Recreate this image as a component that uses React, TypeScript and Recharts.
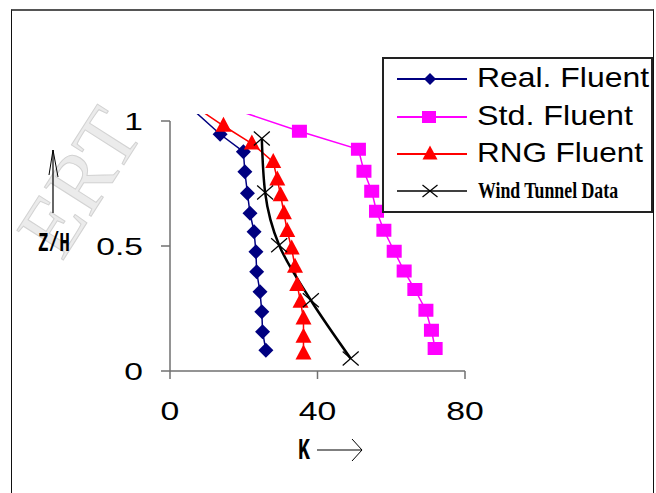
import React from 'react';
import { LineChart, Line, XAxis, YAxis, ReferenceLine } from 'recharts';

// ---- data (K on x, Z/H on y) ----
const realK = [6.6, 13.6, 19.9, 20.3, 21.0, 21.7, 22.8, 23.3, 23.5, 24.4, 24.9, 25.1, 26.0];
const realZ = [1.04, 0.947, 0.877, 0.797, 0.711, 0.631, 0.557, 0.477, 0.397, 0.317, 0.237, 0.157, 0.083];
const stdK = [18.8, 35.1, 51.1, 52.6, 54.7, 56.0, 58.0, 60.8, 63.5, 66.4, 69.4, 70.9, 71.9];
const stdZ = [1.04, 0.959, 0.887, 0.799, 0.719, 0.639, 0.563, 0.479, 0.4, 0.326, 0.243, 0.163, 0.09];
const rngK = [7.5, 14.5, 22.2, 28.0, 29.1, 30.0, 30.9, 31.8, 33.0, 33.9, 34.5, 35.4, 36.2, 36.2, 36.2];
const rngZ = [1.05, 0.981, 0.91, 0.836, 0.766, 0.703, 0.631, 0.56, 0.49, 0.417, 0.344, 0.277, 0.21, 0.137, 0.07];
const windK = [24.9, 25.8, 29.6, 38.2, 49.0];
const windZ = [0.93, 0.714, 0.503, 0.283, 0.05];

const xTicks = [0, 40, 80];
const yTicks = [0, 0.5, 1];
const yMax = 1.028;
const seriesNames = ['Real. Fluent', 'Std. Fluent', 'RNG Fluent', 'Wind Tunnel Data'];

const zip = (k: number[], z: number[]) => k.map((v, i) => ({ k: v, z: z[i] }));
const realData = zip(realK, realZ);
const stdData = zip(stdK, stdZ);
const rngData = zip(rngK, rngZ);
const windData = zip(windK, windZ);

const NAVY = '#000080';
const MAGENTA = '#FF00FF';
const RED = '#FF0000';
const AXIS = '#707070';

const Diamond = ({ cx, cy, r, fill }: any) => (
  <polygon points={`${cx},${cy - r} ${cx + r},${cy} ${cx},${cy + r} ${cx - r},${cy}`} fill={fill} />
);
const Square = ({ cx, cy, w, h, fill }: any) => (
  <rect x={cx - w / 2} y={cy - h / 2} width={w} height={h} fill={fill} />
);
const Tri = ({ cx, cy, w, h, fill }: any) => (
  <polygon points={`${cx},${cy - h * 0.6} ${cx + w / 2},${cy + h * 0.4} ${cx - w / 2},${cy + h * 0.4}`} fill={fill} />
);
const Cross = ({ cx, cy, w, h }: any) => (
  <g stroke="#000" strokeWidth={1.2} fill="none">
    <line x1={cx - w / 2} y1={cy - h / 2} x2={cx + w / 2} y2={cy + h / 2} />
    <line x1={cx - w / 2} y1={cy + h / 2} x2={cx + w / 2} y2={cy - h / 2} />
  </g>
);

// markers outside the plot area are hidden (as in the original)
const inside = (p: any) => p.payload && p.payload.z <= yMax && p.cx != null && p.cy != null;

const XTick = (p: any) => (
  <g transform={`translate(${p.x},${p.y + 39}) scale(1.35,1)`}>
    <text x={0} y={0} textAnchor="middle" fontFamily="'Liberation Sans', Arial, sans-serif" fontSize={25} fill="#000">
      {p.payload.value}
    </text>
  </g>
);
const YTick = (p: any) => (
  <g transform={`translate(${p.x - 16},${p.y + 8.5}) scale(1.4,1)`}>
    <text x={0} y={0} textAnchor="end" fontFamily="'Liberation Sans', Arial, sans-serif" fontSize={24} fill="#000">
      {p.payload.value}
    </text>
  </g>
);

const legendRows = [
  { name: seriesNames[0], y: 79, base: 87, len: 172, color: NAVY },
  { name: seriesNames[1], y: 117, base: 125, len: 156, color: MAGENTA },
  { name: seriesNames[2], y: 154, base: 162, len: 166, color: RED },
  { name: seriesNames[3], y: 191, base: 198, len: 143, color: '#000' },
];

export default function App() {
  return (
    <div style={{ position: 'absolute', left: 0, top: 0, width: 656, height: 493, background: '#fff', overflow: 'hidden' }}>
      <div
        style={{
          position: 'absolute',
          left: 11,
          top: 9,
          width: 641,
          height: 520,
          borderLeft: '1.5px solid #111',
          borderRight: '1.5px solid #111',
          borderTop: '2px solid #555',
        }}
      />
      <svg width={656} height={493} style={{ position: 'absolute', left: 0, top: 0 }}>
        <text
          x={62}
          y={262}
          transform="rotate(-57.5 62 262)"
          fontFamily="'Liberation Serif', 'Times New Roman', serif"
          fontSize={84}
          fill="#ebebeb"
          stroke="#d2d2d2"
          strokeWidth={1}
        >
          ERT
        </text>
      </svg>
      <div style={{ position: 'absolute', left: 0, top: 0 }}>
        <LineChart width={656} height={493} margin={{ top: 114, right: 191, bottom: 82, left: 110 }}>
          <XAxis
            dataKey="k"
            type="number"
            domain={[0, 80]}
            ticks={xTicks}
            tick={<XTick />}
            tickSize={8}
            height={40}
            stroke={AXIS}
            strokeWidth={1.5}
            interval={0}
          />
          <YAxis
            type="number"
            domain={[0, yMax]}
            allowDataOverflow
            ticks={yTicks}
            tick={<YTick />}
            tickSize={9}
            width={60}
            axisLine={false}
            stroke={AXIS}
            strokeWidth={1.5}
            interval={0}
          />
          <ReferenceLine segment={[{ x: 0, y: 0 }, { x: 0, y: 1 }]} stroke={AXIS} strokeWidth={1.5} />
          <Line
            data={realData}
            dataKey="z"
            name={seriesNames[0]}
            type="linear"
            stroke={NAVY}
            strokeWidth={1.5}
            isAnimationActive={false}
            dot={(p: any) =>
              inside(p) ? <Diamond key={`r${p.index}`} cx={p.cx} cy={p.cy} r={7.5} fill={NAVY} /> : <g key={`r${p.index}`} />
            }
          />
          <Line
            data={stdData}
            dataKey="z"
            name={seriesNames[1]}
            type="linear"
            stroke={MAGENTA}
            strokeWidth={1.5}
            isAnimationActive={false}
            dot={(p: any) =>
              inside(p) ? <Square key={`s${p.index}`} cx={p.cx} cy={p.cy} w={15} h={13} fill={MAGENTA} /> : <g key={`s${p.index}`} />
            }
          />
          <Line
            data={rngData}
            dataKey="z"
            name={seriesNames[2]}
            type="linear"
            stroke={RED}
            strokeWidth={1.5}
            isAnimationActive={false}
            dot={(p: any) =>
              inside(p) ? <Tri key={`g${p.index}`} cx={p.cx} cy={p.cy} w={16} h={15} fill={RED} /> : <g key={`g${p.index}`} />
            }
          />
          <Line
            data={windData}
            dataKey="z"
            name={seriesNames[3]}
            type="monotoneY"
            stroke="#000"
            strokeWidth={2.5}
            isAnimationActive={false}
            dot={(p: any) => <Cross key={`w${p.index}`} cx={p.cx} cy={p.cy} w={16} h={14} />}
          />
        </LineChart>
      </div>
      <svg width={656} height={493} style={{ position: 'absolute', left: 0, top: 0, pointerEvents: 'none' }}>
        {/* y axis title with arrow */}
        <line x1={53} y1={213} x2={53} y2={150} stroke="#000" strokeWidth={1.2} />
        <path d="M49,175 L53,150 L58,177" fill="none" stroke="#000" strokeWidth={1} />
        <text
          x={38}
          y={251}
          fontFamily="'Liberation Mono', 'Courier New', monospace"
          fontWeight="bold"
          fontSize={28}
          textLength={32}
          lengthAdjust="spacingAndGlyphs"
          fill="#000"
        >
          Z/H
        </text>
        {/* x axis title with arrow */}
        <text
          x={298}
          y={459}
          fontFamily="'Liberation Mono', 'Courier New', monospace"
          fontWeight="bold"
          fontSize={29}
          textLength={12}
          lengthAdjust="spacingAndGlyphs"
          fill="#000"
        >
          K
        </text>
        <line x1={317} y1={450} x2={362} y2={450} stroke="#000" strokeWidth={1.2} />
        <path d="M352,439 L362,450 L352,461" fill="none" stroke="#000" strokeWidth={1} />
        {/* legend */}
        <rect x={383} y={58} width={269} height={154} fill="#fff" stroke="#222" strokeWidth={2} />
        {legendRows.map((r, i) => (
          <g key={r.name}>
            <line x1={397} y1={r.y} x2={467} y2={r.y} stroke={r.color} strokeWidth={i === 3 ? 1.5 : 2} />
            {i === 0 && <Diamond cx={430} cy={r.y} r={6} fill={NAVY} />}
            {i === 1 && <Square cx={429} cy={r.y} w={14} h={12} fill={MAGENTA} />}
            {i === 2 && <Tri cx={430} cy={r.y} w={15} h={14} fill={RED} />}
            {i === 3 && <Cross cx={430} cy={r.y} w={15} h={12} />}
            {i < 3 ? (
              <text
                x={477}
                y={r.base}
                fontFamily="'Liberation Sans', Arial, sans-serif"
                fontSize={28}
                textLength={r.len}
                lengthAdjust="spacingAndGlyphs"
                fill="#000"
              >
                {r.name}
              </text>
            ) : (
              <g transform={`translate(478,${r.base}) scale(0.89,1.18)`}>
                <text
                  x={0}
                  y={0}
                  fontFamily="'Liberation Serif', 'Times New Roman', serif"
                  fontWeight="bold"
                  fontSize={20}
                  fill="#000"
                >
                  {r.name}
                </text>
              </g>
            )}
          </g>
        ))}
      </svg>
    </div>
  );
}
